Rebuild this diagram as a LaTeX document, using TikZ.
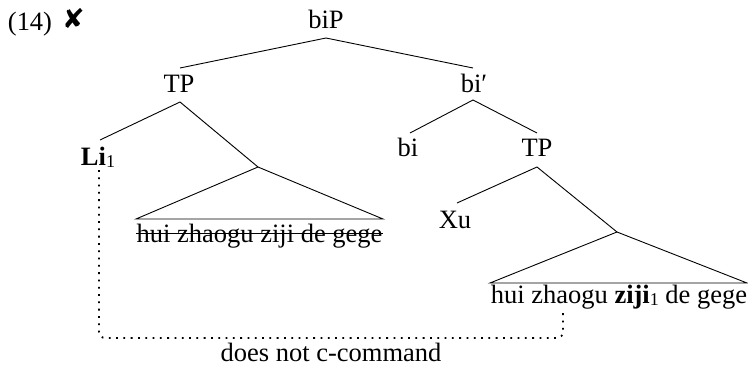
\documentclass[tikz,border=0pt]{standalone}
\usepackage{fontspec}
\setmainfont{Liberation Serif}
\newfontfamily\symfont{DejaVu Sans}
\begin{document}
\begin{tikzpicture}[x=1pt,y=-1pt,
  lab/.style={anchor=base,inner sep=0pt,font=\fontsize{26.5}{30}\selectfont},
  edge/.style={line width=0.9pt},
  link/.style={line width=1.8pt,dash pattern=on 1.8pt off 5.5pt,rounded corners=6pt}]
\useasboundingbox (0,0) rectangle (748,367);
\newcommand{\subone}{\raisebox{-0.2ex}{\fontsize{18}{20}\selectfont 1}}
% labels
\node[lab] (ex) at (30,30) {(14)};
\node[anchor=center,inner sep=0pt,font=\symfont\fontsize{27}{30}\selectfont] (mark) at (73.5,18.5) {✘};
\node[lab] (biP) at (326,28) {biP};
\node[lab] (TPl) at (179,92) {TP};
\node[lab] (bibar) at (474,92) {bi′};
\node[lab] (Li) at (98,165) {\textbf{Li}\subone};
\node[lab] (bi) at (408,156) {bi};
\node[lab] (TPr) at (537,156) {TP};
\node[lab] (Xu) at (455,228) {Xu};
\node[lab] (lstr) at (259.5,242) {hui zhaogu ziji de gege};
\node[lab] (rstr) at (619,303) {hui zhaogu \textbf{ziji}\subone\ de gege};
\node[lab] (note) at (331,361) {does not c-command};
% coordinates
\coordinate (biPb) at (326,38);
\coordinate (TPlt) at (180,68);
\coordinate (bibart) at (473,68);
\coordinate (TPlb) at (180,102);
\coordinate (Lit) at (100,140);
\coordinate (Tl) at (258,167);
\coordinate (Tlw) at (136,219);
\coordinate (Tle) at (383,219);
\coordinate (bibarb) at (473,100);
\coordinate (bit) at (410,133);
\coordinate (TPrt) at (537,133);
\coordinate (TPrb) at (537,167);
\coordinate (Xut) at (457,203);
\coordinate (Tr) at (617,232);
\coordinate (Trw) at (490,283);
\coordinate (Tre) at (747,283);
\coordinate (Lib) at (99,170);
\coordinate (c1) at (99,338);
\coordinate (c2) at (563,338);
\coordinate (zijib) at (563,313);
% tree edges
\draw[edge] (TPlt) -- (biPb) -- (bibart);
\draw[edge] (Lit) -- (TPlb) -- (Tl);
\draw[edge] (Tl) -- (Tlw) -- (Tle) -- cycle;
\draw[edge] (bit) -- (bibarb) -- (TPrt);
\draw[edge] (Xut) -- (TPrb) -- (Tr);
\draw[edge] (Tr) -- (Trw) -- (Tre) -- cycle;
% strikethrough
\draw[line width=0.9pt] ([yshift=8.5pt]lstr.base west) -- ([yshift=8.5pt]lstr.base east);
% c-command link
\draw[link] (Lib) -- (c1) -- (c2) -- (zijib);
\end{tikzpicture}
\end{document}
